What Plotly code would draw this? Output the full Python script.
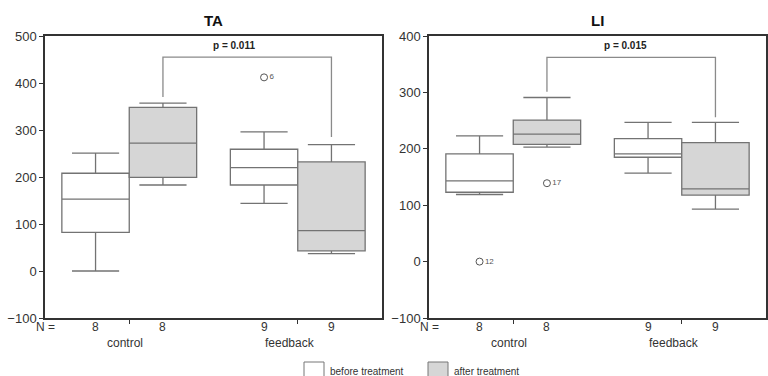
import plotly.graph_objects as go

groups = ["control", "feedback"]
treatments = ["before treatment", "after treatment"]
n_counts = [[8, 8], [9, 9]]

# TA panel stats [group][treatment]
ta_low = [[0, 183], [144, 37]]
ta_q1 = [[82, 199], [183, 43]]
ta_med = [[153, 272], [220, 86]]
ta_q3 = [[208, 348], [259, 232]]
ta_up = [[251, 357], [296, 269]]
ta_outliers = [(1, 0, 412, "6")]  # (group, treatment, value, case)
ta_p = "p = 0.011"
ta_bracket = [370, 455, 285]

# LI panel stats
li_low = [[119, 203], [157, 93]]
li_q1 = [[123, 208], [185, 118]]
li_med = [[143, 226], [191, 129]]
li_q3 = [[191, 251], [218, 211]]
li_up = [[223, 291], [247, 247]]
li_outliers = [(0, 0, 0, "12"), (0, 1, 139, "17")]
li_p = "p = 0.015"
li_bracket = [301, 362, 256]

fills = ["#ffffff", "#d6d6d6"]
line_col = "#737373"
offsets = [-0.2, 0.2]
FONT = "Liberation Sans, Arial, sans-serif"
TXT = "#333333"

fig = go.Figure()

panels = [
    ("x", "y", ta_low, ta_q1, ta_med, ta_q3, ta_up, ta_outliers, ta_p, ta_bracket, "TA", [-100, 500], -13),
    ("x2", "y2", li_low, li_q1, li_med, li_q3, li_up, li_outliers, li_p, li_bracket, "LI", [-100, 400], -6),
]
group_label_shift = [-4, -8]

annotations = []
shapes = []
for pi, (xa, ya, lo, q1, med, q3, up, outs, ptxt, br, title, yr, pshift) in enumerate(panels):
    for t in range(2):
        xs = [g + offsets[t] for g in range(2)]
        fig.add_trace(go.Box(
            x=xs,
            q1=[q1[g][t] for g in range(2)],
            median=[med[g][t] for g in range(2)],
            q3=[q3[g][t] for g in range(2)],
            lowerfence=[lo[g][t] for g in range(2)],
            upperfence=[up[g][t] for g in range(2)],
            width=0.4,
            whiskerwidth=0.7,
            fillcolor=fills[t],
            line=dict(color=line_col, width=1.3),
            name=treatments[t],
            showlegend=False,
            boxpoints=False,
            xaxis=xa, yaxis=ya,
            hoverinfo="skip",
        ))
    # outliers
    fig.add_trace(go.Scatter(
        x=[o[0] + offsets[o[1]] for o in outs],
        y=[o[2] for o in outs],
        mode="markers+text",
        marker=dict(symbol="circle-open", size=7, color="#555555", line=dict(width=1)),
        text=[o[3] for o in outs],
        textposition="middle right",
        textfont=dict(family=FONT, size=8, color="#555555"),
        showlegend=False, xaxis=xa, yaxis=ya, hoverinfo="skip",
    ))
    # significance bracket
    xl = 0 + offsets[1]
    xr = 1 + offsets[1]
    shapes.append(dict(
        type="path", xref=xa, yref=ya,
        path=f"M {xl} {br[0]} L {xl} {br[1]} L {xr} {br[1]} L {xr} {br[2]}",
        line=dict(color="#8a8a8a", width=1.3),
    ))
    annotations.append(dict(
        x=(xl + xr) / 2, y=br[1], xref=xa, yref=ya, text="<b>" + ptxt + "</b>",
        showarrow=False, yanchor="bottom", yshift=4, xshift=pshift,
        font=dict(family=FONT, size=10, color="#222222"),
    ))
    # title
    annotations.append(dict(
        x=0.5, y=1, xref=f"{xa} domain", yref="paper", text="<b>" + title + "</b>",
        showarrow=False, yanchor="middle", yshift=-20,
        font=dict(family=FONT, size=15, color="#111111"),
    ))
    # N labels and group names
    for g in range(2):
        for t in range(2):
            annotations.append(dict(
                x=g + offsets[t], y=58 / 376, xref=xa, yref="paper",
                text=str(n_counts[g][t]), showarrow=False, yanchor="middle", yshift=-9,
                font=dict(family=FONT, size=12, color=TXT),
            ))
        annotations.append(dict(
            x=g, y=58 / 376, xref=xa, yref="paper", xshift=group_label_shift[g],
            text=groups[g], showarrow=False, yanchor="middle", yshift=-25,
            font=dict(family=FONT, size=12, color=TXT),
        ))
    annotations.append(dict(
        x=0, y=58 / 376, xref=f"{xa} domain", yref="paper", xanchor="center",
        text="N =", showarrow=False, yanchor="middle", yshift=-9,
        font=dict(family=FONT, size=12, color=TXT),
    ))

# manual legend (icons + labels)
legend_x = [304, 428]
for t in range(2):
    shapes.append(dict(
        type="rect", xref="paper", yref="paper",
        x0=legend_x[t] / 768, x1=(legend_x[t] + 20) / 768,
        y0=-2 / 376, y1=14 / 376,
        fillcolor=fills[t], line=dict(color="#777777", width=1),
    ))
    annotations.append(dict(
        x=(legend_x[t] + 24) / 768, y=5 / 376, xref="paper", yref="paper",
        xanchor="left", yanchor="middle", showarrow=False, text=treatments[t],
        font=dict(family=FONT, size=10, color=TXT),
    ))

axis_common = dict(
    showline=True, linecolor="#333333", linewidth=1.5, mirror=True,
    showgrid=False, zeroline=False, ticks="outside", ticklen=4,
    tickcolor="#333333", automargin=False,
)

fig.update_layout(
    template="none",
    width=768, height=376,
    margin=dict(l=0, r=0, t=0, b=0, pad=0),
    paper_bgcolor="white", plot_bgcolor="white",
    font=dict(family=FONT, color=TXT),
    xaxis=dict(domain=[45 / 768, 382 / 768], range=[-0.5, 1.5], tickvals=[0, 1],
               showticklabels=False, anchor="y", **axis_common),
    xaxis2=dict(domain=[429 / 768, 766 / 768], range=[-0.5, 1.5], tickvals=[0, 1],
                showticklabels=False, anchor="y2", **axis_common),
    yaxis=dict(domain=[58 / 376, 340 / 376], range=[-100, 500], dtick=100, anchor="x",
               tickfont=dict(size=13, color=TXT), **axis_common),
    yaxis2=dict(domain=[58 / 376, 340 / 376], range=[-100, 400], dtick=100, anchor="x2",
                tickfont=dict(size=13, color=TXT), **axis_common),
    annotations=annotations,
    shapes=shapes,
    showlegend=False,
)

fig.write_html("out.html")
